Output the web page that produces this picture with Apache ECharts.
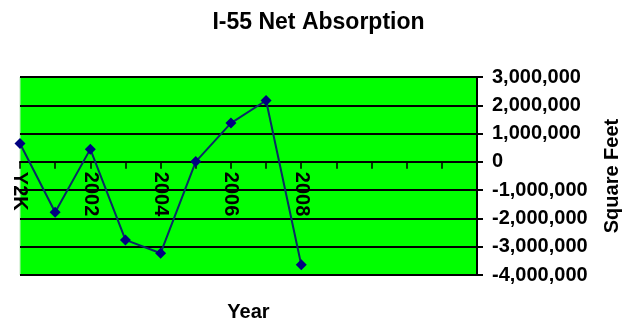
<!DOCTYPE html>
<html>
<head>
<meta charset="utf-8">
<script src="https://cdn.jsdelivr.net/npm/echarts@6/dist/echarts.min.js"></script>
<style>
  html, body { margin: 0; padding: 0; background: #fff; }
  #chart { width: 637px; height: 323px; }
</style>
</head>
<body>
<div id="chart"></div>
<script>
// Years on the category axis (trailing slots are unlabeled)
const years = ['Y2K', '2001', '2002', '2003', '2004', '2005', '2006', '2007', '2008', '', '', '', '', ''];
// Net absorption per year, square feet
const netAbsorption = [650000, -1780000, 450000, -2760000, -3230000, 10000, 1370000, 2170000, -3640000];
// Value axis range and step
const yMin = -4000000;
const yMax = 3000000;
const yStep = 1000000;

const FONT = '"Liberation Sans", Arial, sans-serif';

// Plot box in pixels
const H = 323;
const GRID = { left: 20, right: 160, top: 77, bottom: 48 };
const plotHeight = H - GRID.top - GRID.bottom;
// Pixel row of the zero value, measured from the top
const zeroY = GRID.top + plotHeight * (yMax - 0) / (yMax - yMin);

const labelStyle = { fontFamily: FONT, fontSize: 20, fontWeight: 'bold', color: '#000' };

const chart = echarts.init(document.getElementById('chart'), null, { renderer: 'canvas' });
chart.setOption({
  backgroundColor: '#ffffff',
  animation: false,
  title: {
    text: 'I-55 Net Absorption',
    left: 'center',
    top: 6,
    textStyle: { fontFamily: FONT, fontSize: 23, fontWeight: 'bold', color: '#000' }
  },
  grid: [{
    // Main plot
    left: GRID.left, right: GRID.right, top: GRID.top, bottom: GRID.bottom,
    outerBoundsMode: 'none',
    containLabel: false,
    show: true,
    backgroundColor: '#00ff00',
    borderColor: '#bfe8bf',
    borderWidth: 1
  }, {
    // Upper half only, so its bottom axis lands on the zero line
    left: GRID.left, right: GRID.right, top: GRID.top, bottom: H - zeroY,
    outerBoundsMode: 'none',
    containLabel: false,
    show: false
  }],
  xAxis: [{
    // Scale for the line; carries only the axis title
    gridIndex: 0,
    type: 'category',
    data: years,
    boundaryGap: false,
    name: 'Year',
    nameLocation: 'middle',
    nameGap: 27,
    nameTextStyle: labelStyle,
    axisLine: { show: false, onZero: false },
    axisTick: { show: false },
    axisLabel: { show: false },
    splitLine: { show: false }
  }, {
    // Category line, ticks and year labels along the zero value
    gridIndex: 1,
    type: 'category',
    data: years,
    boundaryGap: false,
    axisLine: { show: true, onZero: false, lineStyle: { color: '#000', width: 2 } },
    axisTick: { show: true, inside: false, length: 7, interval: 0, lineStyle: { color: '#000', width: 1.5 } },
    axisLabel: Object.assign({ interval: 1, rotate: -90, margin: 10 }, labelStyle),
    splitLine: { show: false }
  }],
  yAxis: [{
    gridIndex: 0,
    type: 'value',
    position: 'right',
    min: yMin,
    max: yMax,
    interval: yStep,
    name: 'Square Feet',
    nameLocation: 'middle',
    nameRotate: 90,
    nameGap: 125,
    nameTextStyle: labelStyle,
    axisLine: { show: true, lineStyle: { color: '#000', width: 2 } },
    axisTick: { show: true, length: 6, lineStyle: { color: '#000', width: 2 } },
    axisLabel: Object.assign({
      margin: 15,
      formatter: v => v.toLocaleString('en-US')
    }, labelStyle),
    splitLine: { show: true, lineStyle: { color: '#000', width: 2 } }
  }, {
    gridIndex: 1,
    type: 'value',
    min: 0,
    max: yMax,
    show: false
  }],
  series: [{
    type: 'line',
    xAxisIndex: 0,
    yAxisIndex: 0,
    data: netAbsorption,
    symbol: 'diamond',
    symbolSize: 11,
    lineStyle: { color: '#0a2a66', width: 2 },
    itemStyle: { color: '#000080' }
  }]
});
</script>
</body>
</html>
